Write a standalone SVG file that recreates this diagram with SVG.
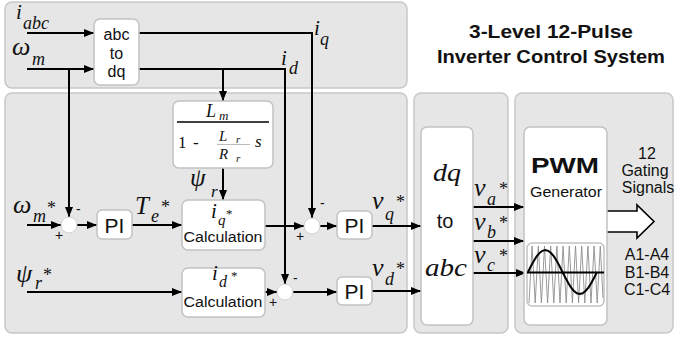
<svg xmlns="http://www.w3.org/2000/svg" width="676" height="341" viewBox="0 0 676 341">
<defs>
<marker id="ah" viewBox="0 0 10 8" refX="10" refY="4" markerWidth="10" markerHeight="8" markerUnits="userSpaceOnUse" orient="auto">
<path d="M0,0 L10,4 L0,8 z" fill="#000"/>
</marker>
</defs>
<style>
.panel{fill:#e6e6e6;stroke:#c8c8c8;stroke-width:1.5}
.box{fill:#fff;stroke:#c2c2c2;stroke-width:1.5}
.sum{fill:#fff;stroke:#d2d2d2;stroke-width:1}
.wire{fill:none;stroke:#000;stroke-width:2}
.arr{marker-end:url(#ah)}
.sans{font-family:"Liberation Sans",Arial,sans-serif;fill:#111}
.math{font-family:"Liberation Serif","Times New Roman",serif;font-style:italic;fill:#111}
.star{font-family:"Liberation Serif","Times New Roman",serif;fill:#111}
.sign{font-family:"Liberation Sans",Arial,sans-serif;font-size:14px;fill:#111}
.mid{text-anchor:middle}
</style>

<g id="panels">
<rect class="panel" x="5" y="2" width="402" height="86" rx="7"/>
<rect class="panel" x="5" y="93" width="402" height="240" rx="7"/>
<rect class="panel" x="414" y="93" width="94" height="240" rx="7"/>
<rect class="panel" x="515" y="93" width="158" height="240" rx="7"/>
</g>

<g id="title">
<text class="sans mid" x="551" y="38" font-size="19" font-weight="bold" fill="#222" textLength="164" lengthAdjust="spacingAndGlyphs">3-Level 12-Pulse</text>
<text class="sans mid" x="551" y="63" font-size="19" font-weight="bold" fill="#222" textLength="228" lengthAdjust="spacingAndGlyphs">Inverter Control System</text>
</g>

<g id="connectors">
<path class="wire arr" d="M27,33 H94"/>
<path class="wire arr" d="M27,69 H94"/>
<path class="wire arr" d="M69,69 V217"/>
<path class="wire arr" d="M139,33 H312 V218"/>
<path class="wire arr" d="M139,69 H285 V284"/>
<path class="wire arr" d="M223,69 V101"/>
<path class="wire arr" d="M223,168 V200"/>
<path class="wire arr" d="M27,225 H61"/>
<path class="wire arr" d="M77,225 H97"/>
<path class="wire arr" d="M132,225 H182"/>
<path class="wire arr" d="M265,226 H304"/>
<path class="wire arr" d="M320,226 H337"/>
<path class="wire arr" d="M372,226 H421"/>
<path class="wire arr" d="M27,292 H182"/>
<path class="wire arr" d="M265,292 H277"/>
<path class="wire arr" d="M293,292 H337"/>
<path class="wire arr" d="M372,291 H421"/>
<path class="wire arr" d="M473,207 H524"/>
<path class="wire arr" d="M473,241 H524"/>
<path class="wire arr" d="M473,273 H526"/>
<path d="M607,211 H637 V205 L654,221.5 L637,238 V232 H607" fill="#fff" stroke="#000" stroke-width="1.6"/>
</g>

<g id="labels">
<text class="math" x="16" y="19" font-size="21">i</text>
<text class="math" x="23" y="29" font-size="18">abc</text>
<text class="math" x="12" y="55" font-size="26">ω</text>
<text class="math" x="32" y="65" font-size="18">m</text>
<text class="math" x="314" y="35" font-size="21">i</text>
<text class="math" x="320" y="45" font-size="18">q</text>
<text class="math" x="281" y="65" font-size="21">i</text>
<text class="math" x="289" y="74" font-size="18">d</text>

<text class="math" x="13" y="213" font-size="26">ω</text>
<text class="math" x="33" y="222" font-size="18">m</text>
<text class="star" x="47" y="214" font-size="18">*</text>

<text class="math" x="135" y="214" font-size="25">T</text>
<text class="math" x="151" y="222" font-size="18">e</text>
<text class="star" x="161" y="213" font-size="18">*</text>

<text class="math" x="190" y="186" font-size="25">ψ</text>
<text class="math" x="211" y="197" font-size="17">r</text>

<text class="math" x="16" y="282" font-size="26">ψ</text>
<text class="math" x="35" y="289" font-size="18">r</text>
<text class="star" x="43" y="281" font-size="18">*</text>

<text class="math" x="372" y="209" font-size="26">v</text>
<text class="math" x="385" y="220" font-size="18">q</text>
<text class="star" x="396" y="208" font-size="18">*</text>

<text class="math" x="372" y="276" font-size="26">v</text>
<text class="math" x="385" y="285" font-size="18">d</text>
<text class="star" x="396" y="275" font-size="18">*</text>

<text class="math" x="474" y="196" font-size="26">v</text>
<text class="math" x="487" y="205" font-size="18">a</text>
<text class="star" x="499" y="195" font-size="18">*</text>

<text class="math" x="474" y="230" font-size="26">v</text>
<text class="math" x="487" y="238" font-size="18">b</text>
<text class="star" x="499" y="229" font-size="18">*</text>

<text class="math" x="474" y="263" font-size="26">v</text>
<text class="math" x="487" y="271" font-size="18">c</text>
<text class="star" x="499" y="262" font-size="18">*</text>

<text class="sign" x="76" y="214">-</text>
<text class="sign" x="55" y="240">+</text>
<text class="sign" x="320" y="208">-</text>
<text class="sign" x="296" y="241">+</text>
<text class="sign" x="293" y="283">-</text>
<text class="sign" x="269" y="307">+</text>

<text class="sans mid" x="647" y="159" font-size="16">12</text>
<text class="sans mid" x="645" y="176" font-size="16">Gating</text>
<text class="sans mid" x="648" y="193" font-size="16">Signals</text>
<text class="sans mid" x="647" y="260" font-size="16">A1-A4</text>
<text class="sans mid" x="647" y="278" font-size="16">B1-B4</text>
<text class="sans mid" x="647" y="295" font-size="16">C1-C4</text>
</g>

<g id="abc2dq">
<rect class="box" x="94" y="19" width="45" height="66" rx="6"/>
<text class="sans mid" x="116.5" y="40" font-size="16">abc</text>
<text class="sans mid" x="116.5" y="59" font-size="16">to</text>
<text class="sans mid" x="116.5" y="77" font-size="16">dq</text>
</g>

<g id="fluxblock">
<rect class="box" x="173" y="101" width="100" height="67" rx="6"/>
<text class="math" x="206" y="117" font-size="18">L</text>
<text class="math" x="219" y="120" font-size="13">m</text>
<line x1="177" y1="122" x2="269" y2="122" stroke="#000" stroke-width="1.5"/>
<text class="star" x="178" y="148" font-size="17">1</text>
<text class="star" x="193" y="148" font-size="17">-</text>
<text class="math" x="219" y="141" font-size="15">L</text>
<text class="math" x="236" y="143" font-size="11">r</text>
<line x1="217" y1="144.5" x2="250" y2="144.5" stroke="#bbb" stroke-width="1"/>
<text class="math" x="219" y="159" font-size="15">R</text>
<text class="math" x="236" y="162" font-size="11">r</text>
<text class="math" x="255" y="147" font-size="17">s</text>
</g>

<g id="sum1"><circle class="sum" cx="69" cy="225" r="8"/></g>
<g id="sum2"><circle class="sum" cx="312" cy="226" r="8"/></g>
<g id="sum3"><circle class="sum" cx="285" cy="292" r="8"/></g>

<g id="pi1">
<rect class="box" x="97" y="210" width="35" height="29" rx="5"/>
<text class="sans mid" x="114.5" y="232.5" font-size="21">PI</text>
</g>
<g id="pi2">
<rect class="box" x="337" y="211" width="35" height="28" rx="5"/>
<text class="sans mid" x="354.5" y="233" font-size="21">PI</text>
</g>
<g id="pi3">
<rect class="box" x="337" y="277" width="35" height="28" rx="5"/>
<text class="sans mid" x="354.5" y="299" font-size="21">PI</text>
</g>

<g id="iqcalc">
<rect class="box" x="182" y="200" width="83" height="50" rx="6"/>
<text class="math" x="211" y="218" font-size="21">i</text>
<text class="math" x="218" y="225" font-size="15">q</text>
<text class="star" x="226" y="218" font-size="13">*</text>
<text class="sans mid" x="223" y="242" font-size="15.5" textLength="79" lengthAdjust="spacingAndGlyphs">Calculation</text>
</g>

<g id="idcalc">
<rect class="box" x="182" y="268" width="83" height="49" rx="6"/>
<text class="math" x="212" y="280" font-size="21">i</text>
<text class="math" x="219" y="287" font-size="16">d</text>
<text class="star" x="231" y="280" font-size="13">*</text>
<text class="sans mid" x="223" y="307" font-size="15.5" textLength="79" lengthAdjust="spacingAndGlyphs">Calculation</text>
</g>

<g id="dq2abc">
<rect class="box" x="421" y="127" width="52" height="198" rx="6"/>
<text class="math mid" x="447" y="181" font-size="26" textLength="28" lengthAdjust="spacingAndGlyphs">dq</text>
<text class="sans mid" x="445" y="228" font-size="20">to</text>
<text class="math mid" x="446" y="276" font-size="26" textLength="42" lengthAdjust="spacingAndGlyphs">abc</text>
</g>

<g id="pwm">
<rect class="box" x="524" y="127" width="83" height="198" rx="6"/>
<text class="sans mid" x="565" y="173" font-size="22" font-weight="bold" textLength="68" lengthAdjust="spacingAndGlyphs">PWM</text>
<text class="sans mid" x="566" y="197" font-size="15.5" textLength="72" lengthAdjust="spacingAndGlyphs">Generator</text>
<rect x="527" y="243" width="77" height="63" rx="5" fill="#fff" stroke="#c2c2c2" stroke-width="1.5"/>
<polyline fill="none" stroke="#8f8f8f" stroke-width="0.9" points="529,303 532.1,246 535.2,303 538.3,246 541.4,303 544.5,246 547.6,303 550.7,246 553.8,303 556.9,246 560,303 563.1,246 566.2,303 569.3,246 572.4,303 575.5,246 578.6,303 581.7,246 584.8,303 587.9,246 591,303 594.1,246 597.2,303 600.3,246 603,298"/>
<line x1="527" y1="272.5" x2="604" y2="272.5" stroke="#000" stroke-width="2"/>
<polyline fill="none" stroke="#000" stroke-width="2" points="528,272 530.9,266.3 533.8,261 536.6,256.4 539.5,253 542.4,250.8 545.3,250 548.1,250.8 551,253 553.9,256.4 556.8,261 559.6,266.3 562.5,272 565.4,277.7 568.3,283 571.1,287.6 574,291 576.9,293.3 579.8,294 582.6,293.3 585.5,291 588.4,287.6 591.3,283 594.1,277.7 597,272"/>
</g>
</svg>
